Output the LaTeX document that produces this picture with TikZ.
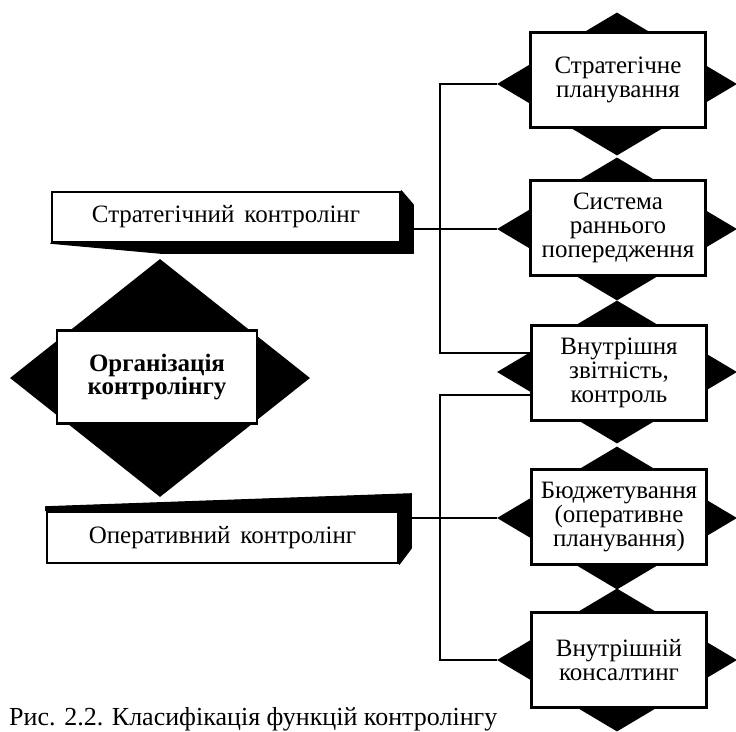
\documentclass[tikz,border=0pt]{standalone}
\usepackage{fontspec}
\setmainfont{Liberation Serif}
\usetikzlibrary{shapes.geometric,calc}

\begin{document}
\begin{tikzpicture}[x=1pt,y=-1pt,
  blackdiamond/.style={diamond, fill=black, draw=none, inner sep=0pt,
    minimum width=240pt, minimum height=143pt},
  funcbox/.style={draw=black, line width=2.6pt, fill=white, align=center,
    inner sep=0pt, minimum width=175pt, minimum height=95pt,
    font=\fontsize{25}{24}\selectfont},
  slab/.style={draw=black, line width=2.6pt, fill=white, inner sep=0pt,
    minimum width=348pt, minimum height=50pt, font=\fontsize{25}{25}\selectfont},
  face/.style={fill=black, draw=black, line width=1pt, line join=round},
  conn/.style={draw=black, line width=2.6pt}
]
\clip (0,0) rectangle (736,731);
\fill[white] (0,0) rectangle (736,731);

% right column: diamonds behind the function boxes
\node[blackdiamond] (d1) at (617,84) {};
\node[blackdiamond] (d2) at (617,229) {};
\node[blackdiamond] (d3) at (617,372) {};
\node[blackdiamond] (d4) at (617,518) {};
\node[blackdiamond] (d5) at (617,660) {};

\node[funcbox] (b1) at (618,80) {Стратегічне\\планування};
\node[funcbox] (b2) at (618,228) {Система\\раннього\\попередження};
\node[funcbox] (b3) at (619,373) {Внутрішня\\звітність,\\контроль};
\node[funcbox] (b4) at (619,517) {Бюджетування\\(оперативне\\планування)};
\node[funcbox] (b5) at (619,660) {Внутрішній\\консалтинг};

% central diamond with the organisation box
\node[diamond, fill=black, inner sep=0pt, minimum width=300pt,
  minimum height=238pt] (dc) at (160,378) {};
\node[draw=black, line width=2.6pt, fill=white, align=center, inner sep=0pt,
  minimum width=200pt, minimum height=93pt,
  font=\bfseries\fontsize{25}{23}\selectfont] (org) at (157,377)
  {Організація\\контролінгу};

% strategic controlling slab
\node[slab] (sc) at (226,217) {Стратегічний\hspace{0.4em}контролінг};
\fill[face] (sc.north east) -- ++(12,14) -- ($(sc.south east)+(12,10)$)
  -- (sc.south east) -- cycle;
\fill[face] (sc.south west) -- (sc.south east) -- ++(12,10)
  -- ($(sc.south west)+(110,10)$) -- cycle;
\coordinate (se) at ($(sc.east)+(12,0)$);

% operational controlling slab
\node[slab, minimum width=351pt, minimum height=51pt] (oc) at (222.5,537.5)
  {Оперативний\hspace{0.4em}контролінг};
\fill[face] (oc.north west) -- (oc.north east) -- ++(12,-17)
  -- ($(oc.north west)+(0,-4)$) -- cycle;
\fill[face] (oc.north east) -- ++(12,-17) -- ($(oc.south east)+(12,-16)$)
  -- (oc.south east) -- cycle;
\coordinate (oe) at ($(oc.east)+(12,0)$);

% connectors
\coordinate (t1) at (440,353);
\coordinate (t2) at (440,395);
\draw[conn] (d1.west) -| (t1) -- (t1 -| b3.west);
\draw[conn] (d5.west) -| (t2) -- (t2 -| b3.west);
\draw[conn] (d2.west -| se) -- (d2.west);
\draw[conn] (d4.west -| oe) -- (d4.west);

% caption
\node[anchor=base west, inner sep=0pt, font=\fontsize{26}{26}\selectfont]
  (cap) at (9,725) {Рис. 2.2. Класифікація функцій контролінгу};
\end{tikzpicture}
\end{document}
